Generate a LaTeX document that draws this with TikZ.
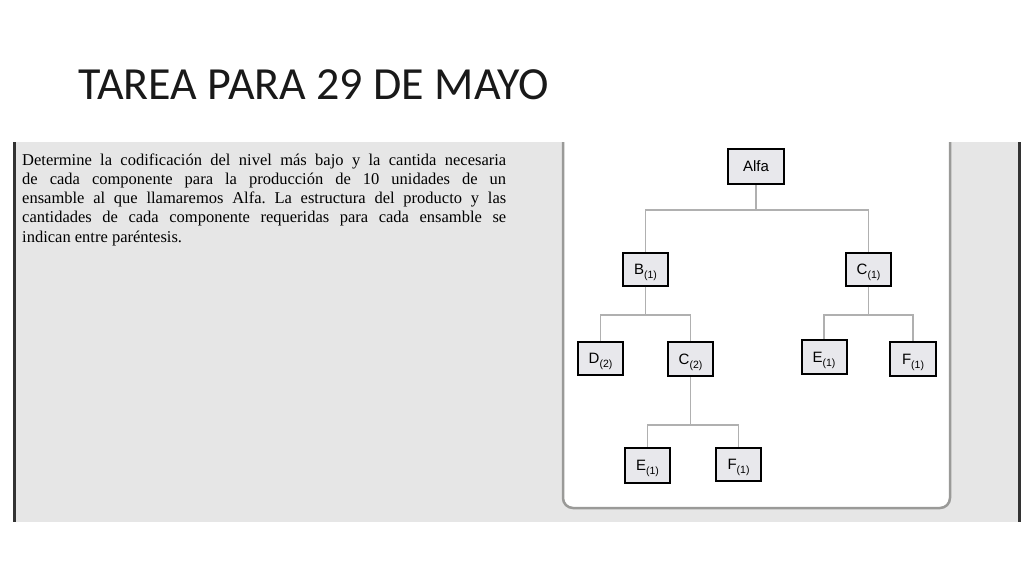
\documentclass[tikz,border=0pt]{standalone}
\usepackage{fontspec}
\setmainfont{Liberation Serif}
\newfontfamily\titlefont{Carlito}
\newfontfamily\boxfont{Liberation Sans}
\usetikzlibrary{calc}
\frenchspacing
\definecolor{panelgray}{HTML}{E6E6E6}
\definecolor{boxfill}{HTML}{E8E8EC}
\definecolor{conngray}{HTML}{B0B0B0}
\definecolor{framegray}{HTML}{9A9A98}
\definecolor{edgedark}{HTML}{333333}
\tikzset{
  part/.style={draw=black, line width=2pt, fill=boxfill, inner sep=0pt,
    minimum width=45pt, minimum height=33pt,
    font=\boxfont\fontsize{15}{15}\selectfont},
  conn/.style={draw=conngray, line width=1.8pt},
  paraline/.style={anchor=base west, inner sep=0pt, text=black,
    font=\fontsize{16.5}{16.5}\selectfont},
}
\newcommand{\qty}[2]{#1\raisebox{-4pt}[0pt][0pt]{\fontsize{10.5}{10.5}\selectfont(#2)}}
\begin{document}
\begin{tikzpicture}[x=1pt,y=-1pt]
\useasboundingbox (0,0) rectangle (1024,576);
\fill[white] (0,0) rectangle (1024,576);
% title
\node[anchor=base west, inner sep=0pt, text=black!90,
  font=\titlefont\fontsize{46}{46}\selectfont] (title) at (78,99.3) {TAREA PARA 29 DE MAYO};
% gray panel
\fill[panelgray] (14,142) rectangle (1019,522);
\draw[edgedark, line width=3pt] (14,142) -- (14,522);
\draw[edgedark, line width=3pt] (1019,142) -- (1019,522);
% white framed box
\fill[white, rounded corners=10pt] (563,142) -- (563,508) -- (950,508) -- (950,142) -- cycle;
\fill[white] (563,142) rectangle (950,160);
\draw[framegray, line width=2.5pt, rounded corners=10pt] (563,142) -- (563,508) -- (950,508) -- (950,142);
% paragraph
\node[paraline] (l1) at (22,165.5) {\makebox[484pt][s]{Determine la codificación del nivel más bajo y la cantida necesaria}};
\node[paraline] (l2) at (22,184.5) {\makebox[484pt][s]{de cada componente para la producción de 10 unidades de un}};
\node[paraline] (l3) at (22,203.5) {\makebox[484pt][s]{ensamble al que llamaremos Alfa. La estructura del producto y las}};
\node[paraline] (l4) at (22,222.5) {\makebox[484pt][s]{cantidades de cada componente requeridas para cada ensamble se}};
\node[paraline] (l5) at (22,242) {indican entre paréntesis.};
% nodes
\node[part, minimum width=56pt, minimum height=35pt] (alfa) at (756,166.5) {Alfa};
\node[part] (b1) at (645.5,269) {\qty{B}{1}};
\node[part] (c1) at (868.5,269) {\qty{C}{1}};
\node[part] (d2) at (600.5,358) {\qty{D}{2}};
\node[part, minimum height=34pt] (c2) at (690.5,359) {\qty{C}{2}};
\node[part, minimum height=34pt] (e1) at (824,357) {\qty{E}{1}};
\node[part, minimum height=34pt, minimum width=46pt] (f1) at (913,359) {\qty{F}{1}};
\node[part, minimum height=35pt] (e3) at (647.5,465.5) {\qty{E}{1}};
\node[part] (f3) at (738.5,464.5) {\qty{F}{1}};
% junctions
\coordinate (j1) at (756,210);
\coordinate (j2) at (645.5,315);
\coordinate (j3) at (868.5,315);
\coordinate (j4) at (690.5,425);
% connectors
\draw[conn] (alfa.south) -- (j1);
\draw[conn] (j1) -| (b1.north);
\draw[conn] (j1) -| (c1.north);
\draw[conn] (b1.south) -- (j2);
\draw[conn] (j2) -| (d2.north);
\draw[conn] (j2) -| (c2.north);
\draw[conn] (c1.south) -- (j3);
\draw[conn] (j3) -| (e1.north);
\draw[conn] (j3) -| (f1.north);
\draw[conn] (c2.south) -- (j4);
\draw[conn] (j4) -| (e3.north);
\draw[conn] (j4) -| (f3.north);
\end{tikzpicture}
\end{document}
